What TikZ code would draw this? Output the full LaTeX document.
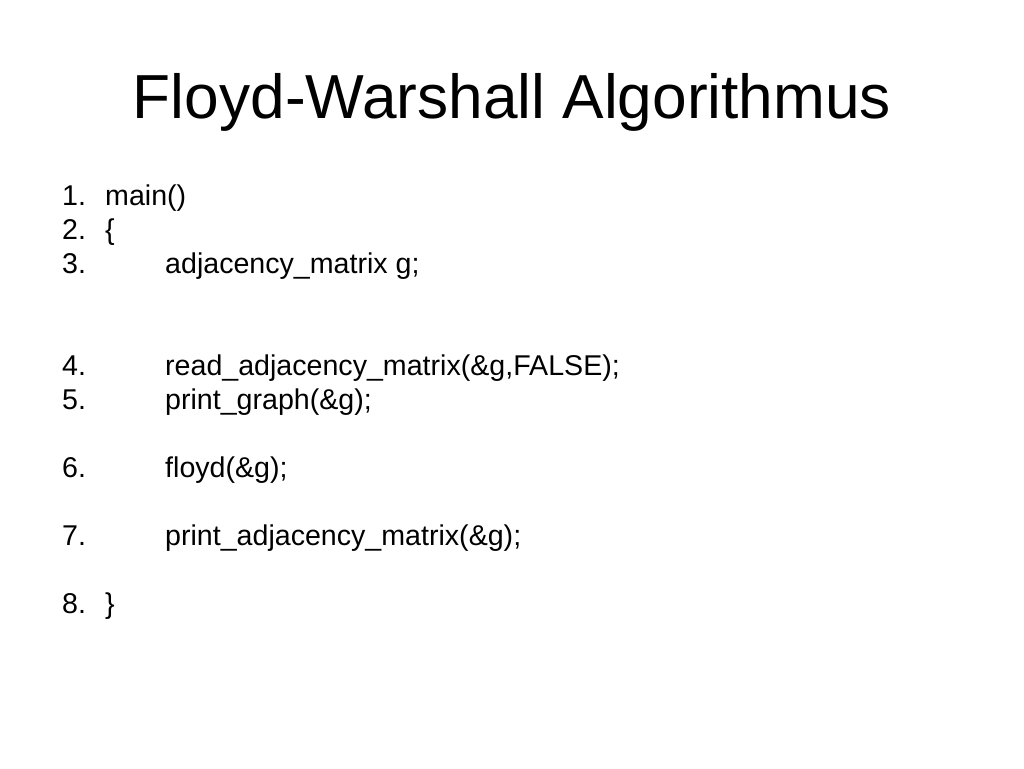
\documentclass[tikz,border=0pt]{standalone}
\usepackage{fontspec}
\setmainfont{Liberation Sans}
\begin{document}
\begin{tikzpicture}[x=1pt,y=-1pt,
  titletext/.style={anchor=base,inner sep=0pt,font=\fontsize{62.2}{70}\selectfont},
  bodytext/.style={anchor=base west,inner sep=0pt,font=\fontsize{28.6}{32}\selectfont}]
\useasboundingbox[fill=white] (0,0) rectangle (1024,768);
\node[titletext] (title) at (512,118) {Floyd-Warshall Algorithmus};
\node[bodytext] (n1) at (62,205) {1.};
\node[bodytext] (t1) at (105,205) {main()};
\node[bodytext] (n2) at (62,239) {2.};
\node[bodytext] (t2) at (105,239) {\{};
\node[bodytext] (n3) at (62,273) {3.};
\node[bodytext] (t3) at (165,273) {adjacency\_matrix g;};
\node[bodytext] (n4) at (62,375) {4.};
\node[bodytext] (t4) at (165,375) {read\_adjacency\_matrix(\&g,FALSE);};
\node[bodytext] (n5) at (62,409) {5.};
\node[bodytext] (t5) at (165,409) {print\_graph(\&g);};
\node[bodytext] (n6) at (62,477) {6.};
\node[bodytext] (t6) at (165,477) {floyd(\&g);};
\node[bodytext] (n7) at (62,545) {7.};
\node[bodytext] (t7) at (165,545) {print\_adjacency\_matrix(\&g);};
\node[bodytext] (n8) at (62,613) {8.};
\node[bodytext] (t8) at (105,613) {\}};
\end{tikzpicture}
\end{document}
